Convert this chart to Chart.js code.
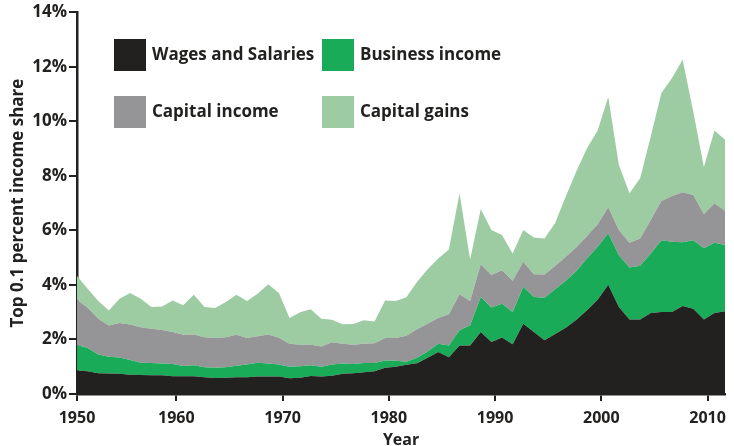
<!DOCTYPE html>
<html>
<head>
<meta charset="utf-8">
<script src="https://cdn.jsdelivr.net/npm/chart.js@4.4.1/dist/chart.umd.min.js"></script>
<style>
  html, body { margin: 0; padding: 0; background: #ffffff; }
  #wrap { width: 734px; height: 446px; position: relative; }
</style>
</head>
<body>
<div id="wrap"><canvas id="c" width="734" height="446"></canvas></div>
<script>
const years = [];
for (let y = 1950; y <= 2011; y++) years.push(y);

const wages = [0.86,0.83,0.76,0.75,0.74,0.71,0.70,0.69,0.69,0.65,
  0.65,0.65,0.61,0.59,0.60,0.61,0.61,0.64,0.64,0.64,
  0.58,0.60,0.66,0.64,0.67,0.74,0.76,0.80,0.83,0.96,
  1.00,1.07,1.13,1.33,1.54,1.35,1.78,1.78,2.27,1.91,
  2.07,1.82,2.58,2.27,1.97,2.20,2.43,2.72,3.07,3.46,
  4.01,3.19,2.73,2.73,2.97,3.01,3.01,3.23,3.13,2.73,
  2.97,3.03];

const business = [0.94,0.86,0.69,0.62,0.60,0.54,0.45,0.45,0.43,0.45,
  0.38,0.40,0.37,0.37,0.38,0.43,0.47,0.51,0.48,0.44,
  0.42,0.42,0.39,0.36,0.41,0.38,0.34,0.34,0.31,0.27,
  0.22,0.11,0.20,0.23,0.30,0.43,0.56,0.74,1.29,1.26,
  1.24,1.19,1.35,1.29,1.56,1.64,1.72,1.79,1.90,1.94,
  1.88,1.90,1.91,1.97,2.18,2.63,2.57,2.33,2.51,2.61,
  2.58,2.43];

const capitalIncome = [1.66,1.47,1.31,1.14,1.26,1.30,1.30,1.25,1.23,1.17,
  1.14,1.13,1.10,1.09,1.10,1.13,0.97,0.97,1.06,0.98,
  0.84,0.79,0.76,0.74,0.82,0.72,0.71,0.70,0.72,0.82,
  0.83,0.96,1.04,1.02,0.95,1.14,1.32,0.89,1.20,1.19,
  1.23,1.14,0.92,0.83,0.85,0.85,0.88,0.87,0.82,0.82,
  0.96,0.92,0.91,1.00,1.23,1.44,1.68,1.84,1.66,1.26,
  1.44,1.25];

const capitalGains = [0.87,0.70,0.65,0.55,0.89,1.15,1.04,0.80,0.86,1.16,
  1.08,1.46,1.11,1.10,1.29,1.47,1.36,1.56,1.84,1.64,
  0.95,1.19,1.30,1.02,0.82,0.72,0.76,0.86,0.80,1.38,
  1.36,1.41,1.74,1.99,2.18,2.38,3.70,1.52,2.02,1.65,
  1.29,1.00,1.16,1.35,1.32,1.58,2.21,2.79,3.22,3.44,
  4.04,2.39,1.81,2.21,3.06,3.96,4.33,4.86,3.06,1.72,
  2.67,2.61];

const seriesNames = ['Wages and Salaries', 'Business income', 'Capital income', 'Capital gains'];
const seriesColors = ['#232120', '#1aab59', '#959597', '#9dcca3'];
const seriesData = [wages, business, capitalIncome, capitalGains];

const xTickLabels = ['1950','1960','1970','1980','1990','2000','2010'];
const xTickValues = [1950, 1959.35, 1969.35, 1979.35, 1989.35, 1999.35, 2009.35];
const yTickValues = [0,2,4,6,8,10,12,14];

const FONT = '"Open Sans", Roboto, sans-serif';
const INK = '#222120';

const datasets = seriesData.map((arr, i) => ({
  label: seriesNames[i],
  data: years.map((yr, j) => ({ x: yr, y: arr[j] })),
  backgroundColor: seriesColors[i],
  borderColor: seriesColors[i],
  borderWidth: 0,
  pointRadius: 0,
  tension: 0,
  fill: i === 0 ? 'origin' : '-1'
}));

const legendPlugin = {
  id: 'gridLegend',
  afterDraw(chart) {
    const ctx = chart.ctx;
    const cols = [114, 322];
    const rows = [39, 96];
    ctx.save();
    ctx.font = 'bold 17px ' + FONT;
    ctx.textBaseline = 'middle';
    ctx.textAlign = 'left';
    seriesNames.forEach((name, i) => {
      const bx = cols[i % 2];
      const by = rows[Math.floor(i / 2)];
      ctx.fillStyle = seriesColors[i];
      ctx.fillRect(bx, by, 32, 32);
      ctx.fillStyle = INK;
      ctx.fillText(name, bx + 38, by + 16);
    });
    ctx.restore();
  }
};

new Chart(document.getElementById('c'), {
  type: 'line',
  data: { datasets },
  plugins: [legendPlugin],
  options: {
    responsive: false,
    animation: false,
    layout: { padding: { top: 12, right: 4, left: 0, bottom: 0 } },
    plugins: { legend: { display: false }, tooltip: { enabled: false } },
    scales: {
      x: {
        type: 'linear',
        min: 1950,
        max: 2011,
        afterBuildTicks(scale) { scale.ticks = xTickValues.map(v => ({ value: v })); },
        afterFit(scale) { scale.height = 52; },
        ticks: {
          autoSkip: false,
          maxRotation: 0,
          padding: 8,
          color: INK,
          font: { family: FONT, size: 16, weight: 'bold' },
          callback: (v, i) => xTickLabels[i]
        },
        grid: { drawOnChartArea: false, drawTicks: true, tickLength: 7, color: INK, lineWidth: 2 },
        border: { display: true, color: INK, width: 2.5 },
        title: {
          display: true, text: 'Year', color: INK,
          font: { family: FONT, size: 16, weight: 'bold' },
          padding: { top: 0, bottom: -4 }
        }
      },
      y: {
        stacked: true,
        min: 0,
        max: 14,
        afterBuildTicks(scale) { scale.ticks = yTickValues.map(v => ({ value: v })); },
        afterFit(scale) { scale.width = 77; },
        ticks: {
          padding: 2,
          color: INK,
          font: { family: FONT, size: 17, weight: 'bold' },
          callback: v => v + '%'
        },
        grid: { drawOnChartArea: false, drawTicks: true, tickLength: 8, color: INK, lineWidth: 2 },
        border: { display: true, color: INK, width: 2.5 },
        title: {
          display: true, text: 'Top 0.1 percent income share', color: INK,
          font: { family: FONT, size: 17, weight: 'bold' },
          padding: { top: 8, bottom: 0 }
        }
      }
    }
  }
});
</script>
</body>
</html>
